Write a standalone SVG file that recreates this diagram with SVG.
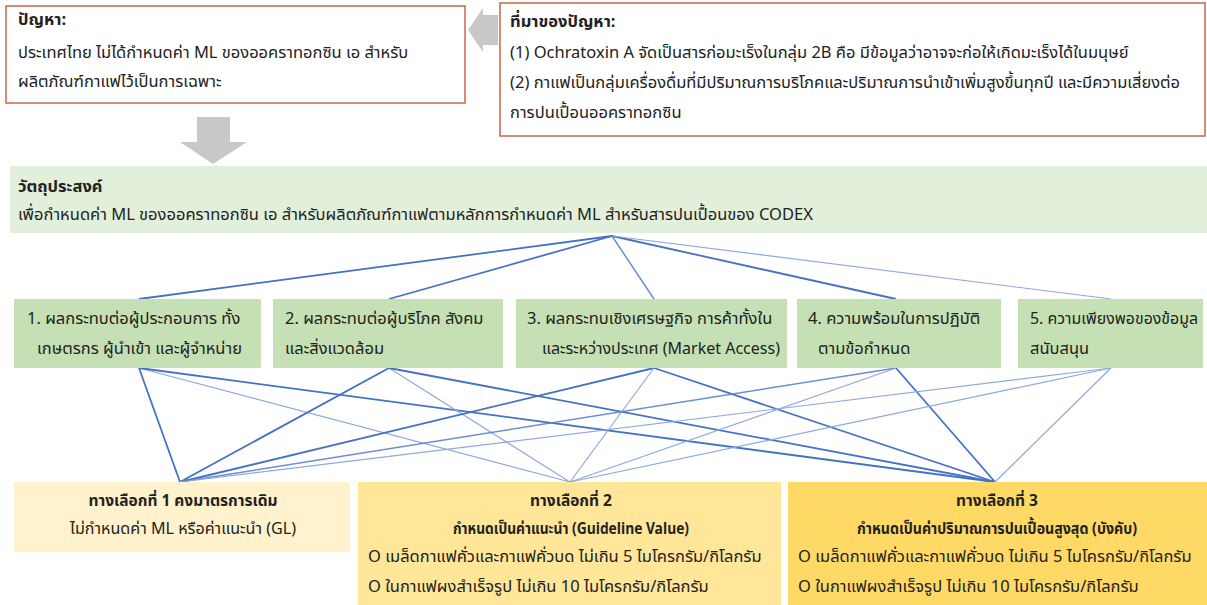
<svg xmlns="http://www.w3.org/2000/svg" width="1207" height="605" viewBox="0 0 1207 605">
<style>
text{font-family:"Noto Sans Thai","Leelawadee UI",Tahoma,"DejaVu Sans","Noto Sans",sans-serif;font-size:16.5px;fill:#222}
.b{font-weight:bold}
.t{font-size:15.5px}
.c{text-anchor:middle}
.prob{fill:#fff;stroke:#C8674A;stroke-width:1.5}
.obj{fill:#E2EFDA}
.crit{fill:#C5E0B4}
.o1{fill:#FFF2CC}
.o2{fill:#FFE699}
.o3{fill:#FFD966}
.arr{fill:#C8C8C8}
.d{stroke:#4472C4;stroke-width:1.8;fill:none}
.m{stroke:#5B82CC;stroke-width:1.5;fill:none;opacity:.9}
.l{stroke:#8EA9DB;stroke-width:1.2;fill:none}
</style>
<rect width="1207" height="605" fill="#fff"/>
<g id="connectors">
<line class="d" x1="612" y1="236" x2="139" y2="299"/>
<line class="d" x1="612" y1="236" x2="389" y2="299"/>
<line class="m" x1="612" y1="236" x2="654" y2="299"/>
<line class="d" x1="612" y1="236" x2="896" y2="299"/>
<line class="l" x1="612" y1="236" x2="1111" y2="299"/>
<line class="d" x1="139" y1="368" x2="180" y2="482"/>
<line class="l" x1="139" y1="368" x2="570" y2="482"/>
<line class="d" x1="139" y1="368" x2="995" y2="482"/>
<line class="d" x1="389" y1="368" x2="180" y2="482"/>
<line class="l" x1="389" y1="368" x2="570" y2="482"/>
<line class="d" x1="389" y1="368" x2="995" y2="482"/>
<line class="d" x1="654" y1="368" x2="180" y2="482"/>
<line class="l" x1="654" y1="368" x2="570" y2="482"/>
<line class="d" x1="654" y1="368" x2="995" y2="482"/>
<line class="m" x1="896" y1="368" x2="180" y2="482"/>
<line class="l" x1="896" y1="368" x2="570" y2="482"/>
<line class="d" x1="896" y1="368" x2="995" y2="482"/>
<line class="l" x1="1111" y1="368" x2="180" y2="482"/>
<line class="l" x1="1111" y1="368" x2="570" y2="482"/>
<line class="l" x1="1111" y1="368" x2="995" y2="482"/>
</g>
<g id="problem">
<rect class="prob" x="6" y="6" width="459" height="97"/>
<text class="b" x="18" y="25">ปัญหา:</text>
<text x="18" y="58">ประเทศไทย ไม่ได้กำหนดค่า ML ของออคราทอกซิน เอ สำหรับ</text>
<text x="18" y="87">ผลิตภัณฑ์กาแฟไว้เป็นการเฉพาะ</text>
</g>
<g id="arrow-left">
<polygon class="arr" points="468,30 483,8 483,15 498,15 498,45 483,45 483,52"/>
</g>
<g id="source">
<rect class="prob" x="500" y="3" width="705" height="133"/>
<text class="b" x="510" y="27">ที่มาของปัญหา:</text>
<text x="510" y="58">(1) Ochratoxin A จัดเป็นสารก่อมะเร็งในกลุ่ม 2B คือ มีข้อมูลว่าอาจจะก่อให้เกิดมะเร็งได้ในมนุษย์</text>
<text x="510" y="88">(2) กาแฟเป็นกลุ่มเครื่องดื่มที่มีปริมาณการบริโภคและปริมาณการนำเข้าเพิ่มสูงขึ้นทุกปี และมีความเสี่ยงต่อ</text>
<text x="510" y="118">การปนเปื้อนออคราทอกซิน</text>
</g>
<g id="arrow-down">
<polygon class="arr" points="197,117 230,117 230,142 247,142 213,164 180,142 197,142"/>
</g>
<g id="objective">
<rect class="obj" x="10" y="166" width="1197" height="67"/>
<text class="b" x="18" y="192">วัตถุประสงค์</text>
<text x="18" y="220">เพื่อกำหนดค่า ML ของออคราทอกซิน เอ สำหรับผลิตภัณฑ์กาแฟตามหลักการกำหนดค่า ML สำหรับสารปนเปื้อนของ CODEX</text>
</g>
<g id="crit1">
<rect class="crit" x="14" y="299" width="247" height="69"/>
<text x="27" y="324">1. ผลกระทบต่อผู้ประกอบการ ทั้ง</text>
<text x="37" y="354">เกษตรกร ผู้นำเข้า และผู้จำหน่าย</text>
</g>
<g id="crit2">
<rect class="crit" x="273" y="299" width="230" height="69"/>
<text x="285" y="324">2. ผลกระทบต่อผู้บริโภค สังคม</text>
<text x="285" y="354">และสิ่งแวดล้อม</text>
</g>
<g id="crit3">
<rect class="crit" x="516" y="299" width="271" height="69"/>
<text x="527" y="324">3. ผลกระทบเชิงเศรษฐกิจ การค้าทั้งใน</text>
<text x="542" y="354" textLength="238" lengthAdjust="spacingAndGlyphs">และระหว่างประเทศ (Market Access)</text>
</g>
<g id="crit4">
<rect class="crit" x="797" y="299" width="204" height="69"/>
<text x="808" y="324">4. ความพร้อมในการปฏิบัติ</text>
<text x="818" y="354">ตามข้อกำหนด</text>
</g>
<g id="crit5">
<rect class="crit" x="1018" y="299" width="185" height="69"/>
<text x="1030" y="324" textLength="168" lengthAdjust="spacingAndGlyphs">5. ความเพียงพอของข้อมูล</text>
<text x="1030" y="354">สนับสนุน</text>
</g>
<g id="option1">
<rect class="o1" x="14" y="482" width="336" height="70"/>
<text class="b t c" x="183" y="506">ทางเลือกที่ 1 คงมาตรการเดิม</text>
<text class="c" x="183" y="534" textLength="226" lengthAdjust="spacingAndGlyphs">ไม่กำหนดค่า ML หรือค่าแนะนำ (GL)</text>
</g>
<g id="option2">
<rect class="o2" x="358" y="482" width="423" height="123"/>
<text class="b t c" x="571" y="506">ทางเลือกที่ 2</text>
<text class="b c" x="571" y="534" textLength="236" lengthAdjust="spacingAndGlyphs">กำหนดเป็นค่าแนะนำ (Guideline Value)</text>
<text x="368" y="562">O เมล็ดกาแฟคั่วและกาแฟคั่วบด ไม่เกิน 5 ไมโครกรัม/กิโลกรัม</text>
<text x="368" y="592">O ในกาแฟผงสำเร็จรูป ไม่เกิน 10 ไมโครกรัม/กิโลกรัม</text>
</g>
<g id="option3">
<rect class="o3" x="788" y="482" width="419" height="123"/>
<text class="b t c" x="997" y="506">ทางเลือกที่ 3</text>
<text class="b c" x="997" y="534" textLength="280" lengthAdjust="spacingAndGlyphs">กำหนดเป็นค่าปริมาณการปนเปื้อนสูงสุด (บังคับ)</text>
<text x="798" y="562">O เมล็ดกาแฟคั่วและกาแฟคั่วบด ไม่เกิน 5 ไมโครกรัม/กิโลกรัม</text>
<text x="798" y="592">O ในกาแฟผงสำเร็จรูป ไม่เกิน 10 ไมโครกรัม/กิโลกรัม</text>
</g>
</svg>
